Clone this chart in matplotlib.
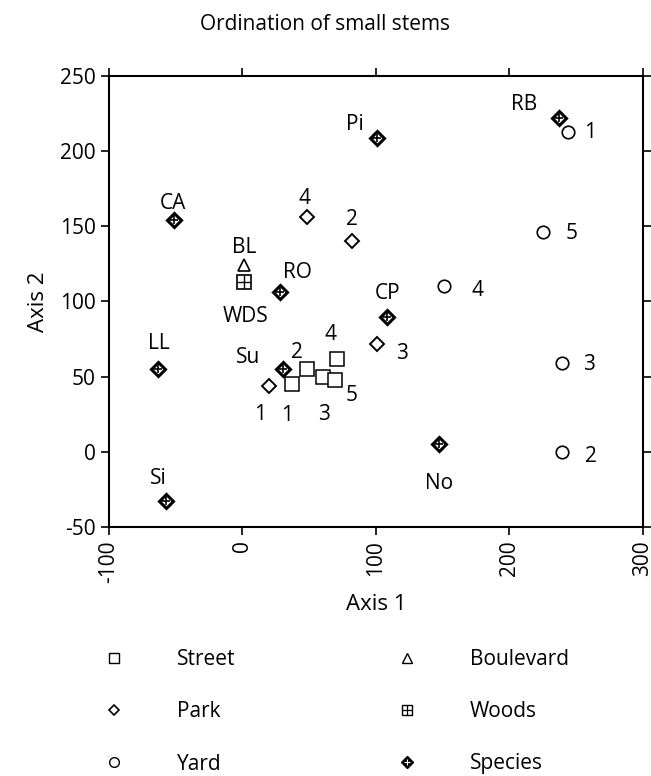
import numpy as np
import matplotlib.pyplot as plt
from matplotlib.lines import Line2D

plt.rcParams['font.family'] = ['Open Sans', 'DejaVu Sans']
plt.rcParams['axes.unicode_minus'] = False

# site scores (Axis 1, Axis 2) with their labels
street_x = [37, 48, 60, 71, 69]
street_y = [45, 55, 50, 62, 48]
street_lab = ['1', '2', '3', '4', '5']

park_x = [20, 82, 101, 48]
park_y = [44, 140, 72, 156]
park_lab = ['1', '2', '3', '4']

yard_x = [244, 239, 239, 151, 225]
yard_y = [213, 0, 59, 110, 146]
yard_lab = ['1', '2', '3', '4', '5']

boulevard_x = [1]
boulevard_y = [124]
boulevard_lab = ['BL']

woods_x = [1]
woods_y = [113]
woods_lab = ['WDS']

species_x = [-51, 101, 28, 108, 237, -63, -57, 30, 147]
species_y = [154, 209, 106, 90, 222, 55, -33, 55, 5]
species_lab = ['CA', 'Pi', 'RO', 'CP', 'RB', 'LL', 'Si', 'Su', 'No']

# label offsets in pixels from the marker
street_off = [(-5, -31), (-10, 17), (1, -38), (-7, 24), (17, -16)]
park_off = [(-9, -29), (0, 22), (25, -10), (-2, 19)]
yard_off = [(22, -1), (29, -5), (27, -1), (33, -4), (29, -1)]
boulevard_off = [(0, 18)]
woods_off = [(2, -35)]
species_off = [(-1, 17), (-22, 13), (18, 20), (1, 23), (-35, 14),
               (1, 26), (-8, 23), (-34, 12), (0, -39)]

fig = plt.figure(figsize=(6.51, 7.76), dpi=100)
ax = fig.add_axes([0.1674, 0.3209, 0.8203, 0.5812])

fs = 15

ax.plot(street_x, street_y, 's', ms=10.5, mfc='white', mec='black', mew=1.1)
ax.plot(park_x, park_y, 'D', ms=7, mfc='white', mec='black', mew=1.4)
ax.plot(yard_x, yard_y, 'o', ms=9, mfc='white', mec='black', mew=1.2)
ax.plot(boulevard_x, boulevard_y, '^', ms=9, mfc='white', mec='black', mew=1.2)
ax.plot(woods_x, woods_y, 's', ms=10, mfc='white', mec='black', mew=1.2)
ax.plot(woods_x, woods_y, '+', ms=10, mec='black', mew=1.0)
ax.plot(species_x, species_y, 'D', ms=7, mfc='white', mec='black', mew=2.2)
ax.plot(species_x, species_y, '+', ms=6, mec='black', mew=1.2)

groups = [(street_x, street_y, street_lab, street_off),
          (park_x, park_y, park_lab, park_off),
          (yard_x, yard_y, yard_lab, yard_off),
          (boulevard_x, boulevard_y, boulevard_lab, boulevard_off),
          (woods_x, woods_y, woods_lab, woods_off),
          (species_x, species_y, species_lab, species_off)]
for xs, ys, labs, offs in groups:
    for x, y, lab, off in zip(xs, ys, labs, offs):
        ax.annotate(lab, (x, y), xytext=off, textcoords='offset pixels',
                    ha='center', va='center', fontsize=fs)

ax.set_xlim(-100, 300)
ax.set_ylim(-50, 250)
ax.set_xticks([-100, 0, 100, 200, 300])
ax.set_yticks([-50, 0, 50, 100, 150, 200, 250])
ax.tick_params(direction='out', length=6, width=1.2, labelsize=fs,
               top=True, right=True)
plt.setp(ax.get_xticklabels(), rotation=90)
for s in ax.spines.values():
    s.set_linewidth(1.5)

ax.set_xlabel('Axis 1', fontsize=fs + 1, labelpad=8)
ax.set_ylabel('Axis 2', fontsize=fs + 1, labelpad=8)
fig.text(0.5, 1 - 25 / 776, 'Ordination of small stems', fontsize=fs,
         ha='center', va='center')

sq = Line2D([], [], ls='', marker='s', ms=7, mfc='white', mec='black')
handles = [
    sq,
    Line2D([], [], ls='', marker='D', ms=5, mfc='white', mec='black', mew=1.2),
    Line2D([], [], ls='', marker='o', ms=7, mfc='white', mec='black'),
    Line2D([], [], ls='', marker='^', ms=7, mfc='white', mec='black'),
    (Line2D([], [], ls='', marker='s', ms=7, mfc='white', mec='black'),
     Line2D([], [], ls='', marker='+', ms=7, mec='black', mew=0.9)),
    (Line2D([], [], ls='', marker='D', ms=6, mfc='black', mec='black'),
     Line2D([], [], ls='', marker='+', ms=5, mec='white', mew=0.8)),
]
names = ['Street', 'Park', 'Yard', 'Boulevard', 'Woods', 'Species']
fig.legend(handles, names, ncol=2, frameon=False, fontsize=fs,
           loc='upper left', bbox_to_anchor=(104 / 651, 1 - 649 / 776),
           handlelength=1.0, handletextpad=2.5, columnspacing=7.75,
           labelspacing=1.5, borderaxespad=0, borderpad=0)

fig.savefig('out.png', dpi=100)
